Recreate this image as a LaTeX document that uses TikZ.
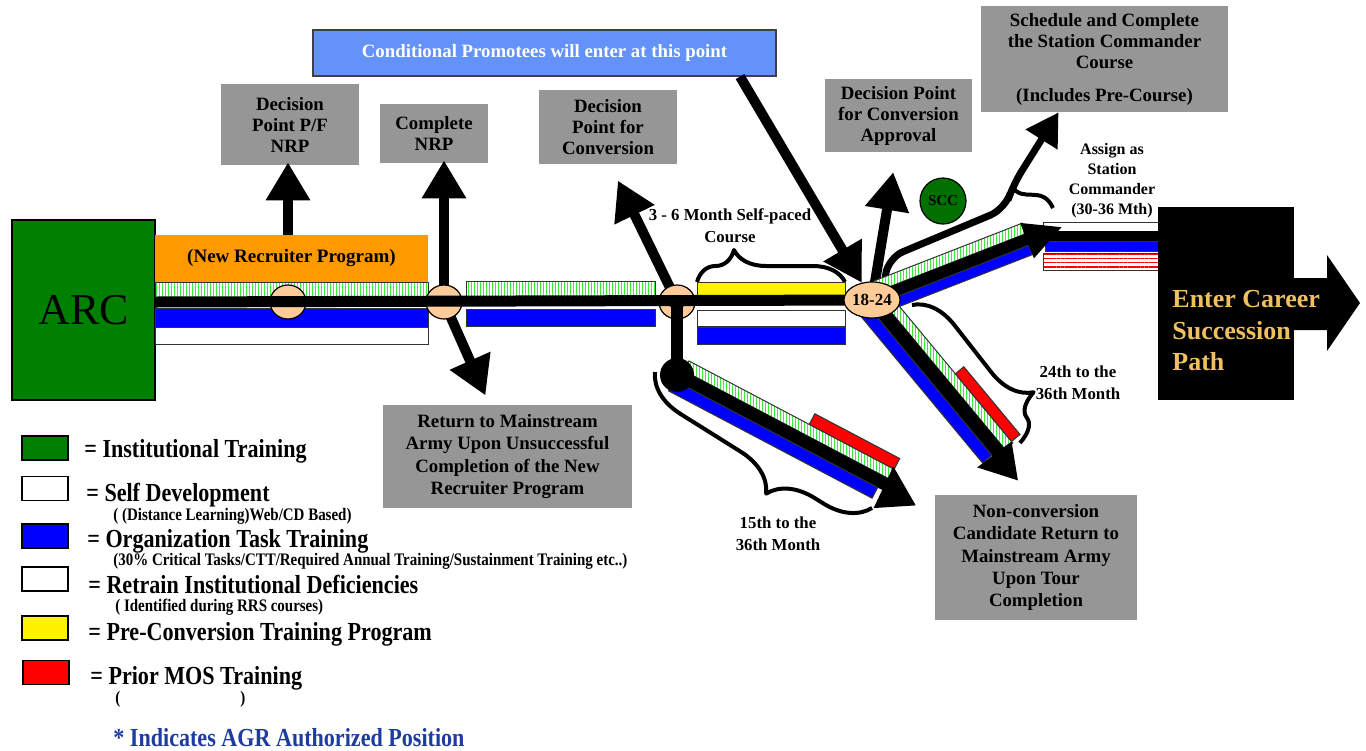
\documentclass[tikz,border=0pt]{standalone}
\usepackage{fontspec}
\setmainfont{Liberation Serif}
\newfontfamily\legfont[FakeStretch=0.85]{Liberation Serif}
\usetikzlibrary{arrows.meta,patterns.meta,decorations.pathreplacing,shapes.geometric,positioning}

\definecolor{boxgray}{RGB}{150,150,150}
\definecolor{arcgreen}{RGB}{0,128,0}
\definecolor{nrporange}{RGB}{255,153,0}
\definecolor{condblue}{RGB}{99,146,250}
\definecolor{peach}{RGB}{255,204,153}
\definecolor{orgblue}{RGB}{0,0,255}
\definecolor{agrblue}{RGB}{30,60,160}
\definecolor{pathgold}{RGB}{240,192,96}
\definecolor{sccgreen}{RGB}{0,112,0}
\definecolor{stripegreen}{RGB}{60,235,60}

\tikzset{
  infobox/.style={fill=boxgray, inner sep=0pt, align=center,
    font=\bfseries\fontsize{9.4}{10.5}\selectfont},
  lowbox/.style={infobox, font=\bfseries\fontsize{9.4}{11.2}\selectfont},
  condbox/.style={fill=condblue, draw=black!75, line width=0.6pt, inner sep=0pt,
    minimum width=231.5pt, minimum height=23pt, text=white,
    font=\bfseries\fontsize{9.4}{11}\selectfont},
  bigarrow/.style={line width=5pt, -{Triangle[width=21pt,length=19pt]}},
  mainline/.style={line width=5.5pt},
  bar/.style={draw=black!80, line width=0.5pt},
  stripebar/.style={bar, preaction={fill=white},
    pattern={Lines[angle=90,distance=1.5pt,line width=0.45pt]}, pattern color=stripegreen},
  redstripe/.style={bar, preaction={fill=white},
    pattern={Lines[angle=0,distance=2.1pt,line width=0.55pt]}, pattern color=red},
  stopnode/.style={ellipse, draw, fill=peach, line width=0.6pt, inner sep=0pt,
    minimum width=18pt, minimum height=17pt, font=\bfseries\fontsize{8.5}{9}\selectfont},
  curly/.style={decorate, line width=2pt, line join=round},
  lbl/.style={align=center, font=\bfseries\fontsize{8.4}{11}\selectfont},
  legsq/.style={draw, line width=0.7pt, minimum width=23pt, minimum height=12pt, inner sep=0pt},
  legtext/.style={anchor=base west, inner sep=0pt, font=\legfont\bfseries\fontsize{13}{15}\selectfont},
  legsub/.style={anchor=base west, inner sep=0pt, font=\legfont\bfseries\fontsize{8.8}{10}\selectfont},
}

\begin{document}
\begin{tikzpicture}[x=0.5pt,y=-0.5pt]
\useasboundingbox (0,0) rectangle (1366,750);
\fill[white] (0,0) rectangle (1366,750);

% gray decision boxes
\node[infobox, minimum width=69pt, minimum height=40.5pt] (pf) at (290,124.5) {Decision\\Point P/F\\NRP};
\node[infobox, minimum width=54pt, minimum height=29.5pt] (nrp) at (434,133.5) {Complete\\NRP};
\node[infobox, minimum width=69pt, minimum height=37pt] (conv) at (608,127) {Decision\\Point for\\Conversion};
\node[condbox] (cond) at (544.5,53) {Conditional Promotees will enter at this point};
\node[infobox, minimum width=73.5pt, minimum height=36.5pt] (appr) at (898.5,115.5) {Decision Point\\for Conversion\\Approval};
\node[infobox, minimum width=123.5pt, minimum height=53pt] (sched) at (1104.5,59)
  {Schedule and Complete\\the Station Commander\\Course\\[6pt](Includes Pre-Course)};
\node[lowbox, minimum width=124.5pt, minimum height=51.5pt] (ret) at (507.5,456.5)
  {Return to Mainstream\\Army Upon Unsuccessful\\Completion of the New\\Recruiter Program};
\node[lowbox, minimum width=101pt, minimum height=62.5pt] (nonconv) at (1036,557.5)
  {Non-conversion\\Candidate Return to\\Mainstream Army\\Upon Tour\\Completion};

% points on the line
\coordinate (s1) at (288,302);
\coordinate (s2) at (444,302);
\coordinate (s15) at (677,302);
\coordinate (s1824) at (872,300);

% arrows
\draw[bigarrow, shorten >=-1.5pt] (s1) -- (s1 |- pf.south);
\draw[bigarrow, shorten >=-1.5pt] (s2) -- (s2 |- nrp.south);
\draw[bigarrow, shorten >=5pt] (s2) -- ([xshift=-9pt]ret.north);
\draw[bigarrow, shorten >=9pt] (s15) -- ([xshift=1pt]conv.south);
\draw[bigarrow, shorten >=10pt] ([xshift=97.75pt]cond.south) -- (s1824);
\draw[bigarrow, shorten >=10pt] (s1824) -- ([xshift=-1pt]appr.south);
\draw[line width=3.5pt, rounded corners=8pt, -{Triangle[width=18pt,length=16pt]}]
  (884,286) -- (888,258) -- (1005,209) -- (1013,185) -- ([xshift=-23pt]sched.south);
\draw[line width=2pt] (1012,186) .. controls (1022,204) and (1042,184) .. (1053,208);

% bars toward the career path
\draw[bar, fill=white] (1043,222) rectangle (1158,231);
\fill (1047,231) rectangle (1158,241);
\draw[bar, fill=orgblue] (1045,241) rectangle (1158,251);
\draw[redstripe] (1043,253) rectangle (1158,270);

% band to the lower left
\begin{scope}[shift={(677,375)}, rotate=-27.8]
  \draw[stripebar] (4,-18) rectangle (236,-7);
  \draw[bar, fill=red] (140,-30) rectangle (236,-18);
  \fill (0,-7) rectangle (236,6);
  \draw[bar, fill=orgblue] (0,6) rectangle (230,18);
  \fill (234,-20) -- (272,4) -- (236,26) -- cycle;
\end{scope}
% band down from 18-24
\begin{scope}[shift={(872,300)}, rotate=-50.3]
  \draw[stripebar] (0,-17) rectangle (200,-7);
  \draw[bar, fill=red] (110,-28) rectangle (198,-17);
  \fill (0,-7) rectangle (200,7);
  \draw[bar, fill=orgblue] (0,7) rectangle (196,19);
  \fill (198,-17) -- (232,3) -- (196,26) -- cycle;
\end{scope}
% band up from 18-24
\begin{scope}[shift={(872,300)}, rotate=21.3]
  \draw[stripebar] (0,-17) rectangle (168,-6);
  \fill (0,-6) rectangle (168,6);
  \draw[bar, fill=orgblue] (0,6) rectangle (166,16);
  \fill (166,-18) -- (203,1) -- (166,20) -- cycle;
\end{scope}

% braces
\draw[curly, decoration={brace, amplitude=16pt, aspect=0.25}] (697,282) -- (845,282);
\draw[curly, decoration={brace, mirror, amplitude=22pt, aspect=0.62}] (655,372) -- (872,508);
\draw[curly, decoration={brace, amplitude=21pt, aspect=0.82}] (912,305) -- (1020,443);

% ARC and the first stretch
\node[draw, fill=arcgreen, line width=0.8pt, minimum width=71.5pt, minimum height=90pt,
  font=\fontsize{22}{26}\selectfont] (arc) at (83.5,310) {ARC};
\node[fill=nrporange, minimum width=136.5pt, minimum height=23.5pt, inner sep=0pt,
  font=\bfseries\fontsize{9.5}{11}\selectfont] (nrpbar) at (291.5,258.5) {(New Recruiter Program)};
\draw[stripebar] (155,282) rectangle (428,297);
\draw[bar, fill=orgblue] (155,308) rectangle (428,327);
\draw[bar, fill=white] (155,327) rectangle (428,344);
\draw[stripebar] (466,281) rectangle (655,297);
\draw[bar, fill=orgblue] (466,309) rectangle (655,326);
\draw[bar, fill=yellow] (697,282) rectangle (845,298);
\draw[bar, fill=white] (697,310) rectangle (845,326);
\draw[bar, fill=orgblue] (697,327) rectangle (845,344);

\node[stopnode] (c1) at (s1) {};
\node[stopnode] (c2) at (s2) {};
\node[stopnode] (c15) at (s15) {15};
\draw[mainline] (s1 -| arc.east) -- (s1824);
\node[circle, fill=black, minimum size=17pt, inner sep=0pt] (blk) at (677,375) {};
\draw[line width=6pt] (c15.center) -- (blk.center);
\node[stopnode, minimum width=25pt, minimum height=18pt] (c1824) at (s1824) {18-24};
\node[circle, draw, fill=sccgreen, line width=0.6pt, minimum size=23pt, inner sep=0pt,
  font=\bfseries\fontsize{7.5}{8}\selectfont] (scc) at (943,201) {SCC};

% labels
\node[lbl] (selfpaced) at (730,226) {3 - 6 Month Self-paced\\Course};
\node[lbl] (m15) at (778,534) {15th to the\\36th Month};
\node[lbl] (m24) at (1078,383) {24th to the\\36th Month};
\node[lbl, font=\bfseries\fontsize{8}{10}\selectfont] (assign) at (1112,181)
  {Assign as\\Station\\Commander\\(30-36 Mth)};

% career path
\fill (1294,278) -- (1327,278) -- (1327,255) -- (1360,303) -- (1327,351) -- (1327,330) -- (1294,330) -- cycle;
\node[fill=black, minimum width=68pt, minimum height=96.5pt, inner sep=0pt] (career) at (1226,303.5) {};
\node[anchor=west, align=left, text=pathgold, inner sep=0pt,
  font=\bfseries\fontsize{13}{15.75}\selectfont] (enter) at (1172,331) {Enter Career\\Succession\\Path};

% legend
\node[legsq, fill=arcgreen] (lg1) at (45,448) {};
\node[legsq, fill=white] (lg2) at (45,488.5) {};
\node[legsq, fill=orgblue] (lg3) at (45,536) {};
\node[legsq, fill=white] (lg4) at (45,579) {};
\node[legsq, fill=yellow] (lg5) at (45,628) {};
\node[legsq, fill=red] (lg6) at (46,672.5) {};
\node[legtext] (lt1) at (84,457) {= Institutional Training};
\node[legtext] (lt2) at (86,501) {= Self Development};
\node[legsub] (ls2) at (113,520) {( (Distance Learning)Web/CD Based)};
\node[legtext] (lt3) at (87,547) {= Organization Task Training};
\node[legsub] (ls3) at (113,565) {(30\% Critical Tasks/CTT/Required Annual Training/Sustainment Training etc..)};
\node[legtext] (lt4) at (88,593) {= Retrain Institutional Deficiencies};
\node[legsub] (ls4) at (115,611) {( Identified during RRS courses)};
\node[legtext] (lt5) at (88,640) {= Pre-Conversion Training Program};
\node[legtext] (lt6) at (90,684) {= Prior MOS Training};
\node[legsub] (ls6a) at (115,703) {(};
\node[legsub] (ls6b) at (240,703) {)};
\node[legtext, text=agrblue] (agr) at (113,746) {* Indicates AGR Authorized Position};
\end{tikzpicture}
\end{document}
